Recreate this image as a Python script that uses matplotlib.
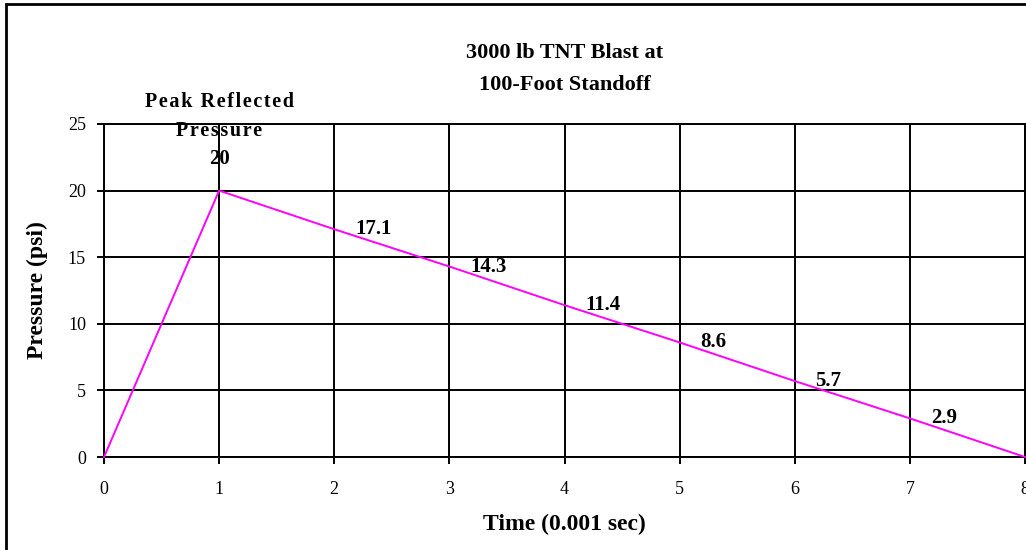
import matplotlib
matplotlib.use("Agg")
import matplotlib.pyplot as plt
from matplotlib.patches import Rectangle

# curve of the blast pressure
time_pts = [0, 1, 2, 3, 4, 5, 6, 7, 8]
pressure = [0, 20, 17.1, 14.3, 11.4, 8.6, 5.7, 2.9, 0]
label_times = [2, 3, 4, 5, 6, 7]
label_values = [17.1, 14.3, 11.4, 8.6, 5.7, 2.9]
peak_time = 1
peak_value = 20
peak_text = "Peak Reflected\nPressure"
title_text = "3000 lb TNT Blast at\n100-Foot Standoff"

plt.rcParams['font.family'] = ['Liberation Serif', 'DejaVu Serif']


def spaced(s):
    # mimic the wide letter spacing of the original label
    return "\n".join("\u200a".join(line) for line in s.split("\n"))


fig = plt.figure(figsize=(10.26, 5.5), dpi=100)
axis = fig.add_axes([104 / 1026, 1 - 457 / 550, 921 / 1026, 333 / 550])

axis.plot(time_pts, pressure, color='#FF00FF', linewidth=1.4, zorder=3, clip_on=False)

axis.set_xlim(0, 8)
axis.set_ylim(0, 25)
axis.set_xticks(range(0, 9))
axis.set_yticks(range(0, 26, 5))
axis.grid(True, color='black', linewidth=1.4)
axis.set_axisbelow(True)
for s in axis.spines.values():
    s.set_linewidth(1.4)
axis.tick_params(axis='both', labelsize=13, width=1.4, length=5, direction='out')
axis.tick_params(axis='x', pad=12)
axis.tick_params(axis='y', pad=8)

axis.set_xlabel("Time (0.001 sec)", fontsize=17, fontweight='bold', labelpad=12)
axis.set_ylabel("Pressure (psi)", fontsize=17, fontweight='bold', labelpad=14)

for t, v in zip(label_times, label_values):
    axis.annotate(f'{v}', xy=(t, v), xytext=(15, 0), textcoords="offset points",
                  ha='left', va='center', fontsize=15, fontweight='bold')

axis.annotate(f'{peak_value}', xy=(peak_time, peak_value), xytext=(0, 23),
              textcoords="offset points", ha='center', va='center',
              fontsize=15, fontweight='bold')
axis.annotate(spaced(peak_text), xy=(peak_time, peak_value), xytext=(0, 53),
              textcoords="offset points", ha='center', va='center',
              fontsize=14.5, fontweight='bold', linespacing=1.6)

fig.text(565 / 1026, 1 - 69 / 550, title_text,
         ha='center', va='center', fontsize=16, fontweight='bold', linespacing=1.75)

fig.patches.append(Rectangle((6 / 1026, -0.05), 1.2, 1 - 4 / 550 + 0.05,
                             transform=fig.transFigure, fill=False,
                             edgecolor='black', linewidth=2))

fig.savefig("out.png", dpi=100)
